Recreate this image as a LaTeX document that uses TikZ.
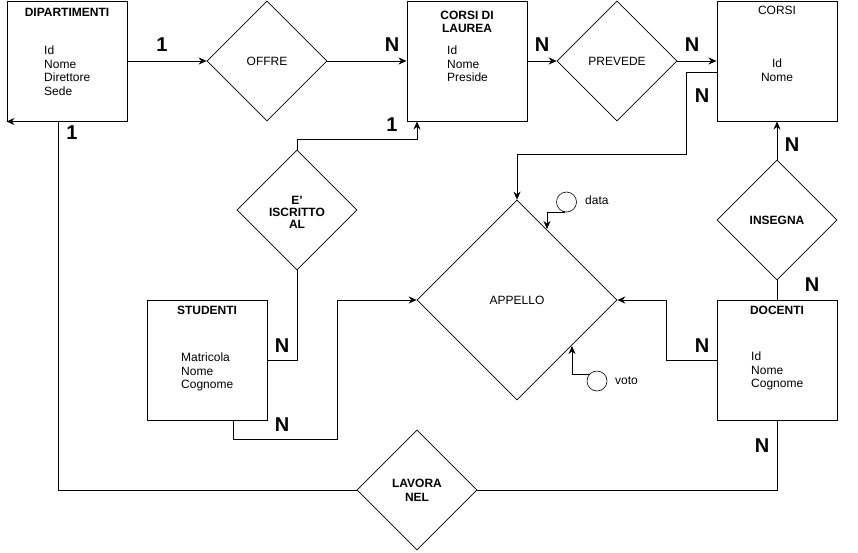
\documentclass[tikz,border=0pt]{standalone}
\usepackage{fontspec}
\setmainfont{Liberation Sans}
\usetikzlibrary{shapes.geometric,arrows.meta}
\begin{document}
\begin{tikzpicture}[x=1pt,y=-1pt,
  ent/.style={draw,line width=1pt,minimum width=120pt,minimum height=120pt,inner sep=0pt},
  rel/.style={draw,diamond,aspect=1,line width=0.6pt,inner sep=0pt,minimum width=120pt,minimum height=120pt},
  rtxt/.style={inner sep=0pt,align=center,font=\fontsize{12}{13}\selectfont},
  rtxtb/.style={inner sep=0pt,align=center,font=\fontsize{12}{12}\selectfont\bfseries},
  ttl/.style={inner sep=0pt,align=center,font=\fontsize{12}{13}\selectfont\bfseries},
  ttlr/.style={inner sep=0pt,align=center,font=\fontsize{12}{13}\selectfont},
  attr/.style={inner sep=0pt,anchor=north west,align=left,font=\fontsize{12}{13.7}\selectfont},
  card/.style={inner sep=0pt,font=\fontsize{20}{20}\selectfont\bfseries},
  atc/.style={draw,circle,line width=0.6pt,minimum size=20pt,inner sep=0pt},
  lnk/.style={line width=1pt},
  arr/.style={line width=1pt,-{Stealth[length=8pt,width=7pt]}}
]
\useasboundingbox (0,0) rectangle (858,552);

% entities
\node[ent] (dip) at (67,61) {};
\node[ent] (cdl) at (467,61) {};
\node[ent] (corsi) at (777,61) {};
\node[ent] (stud) at (207,360) {};
\node[ent] (doc) at (777,360) {};

\node[ttl] (tdip) at (67,12) {DIPARTIMENTI};
\node[attr] (adip) at (44,45.5) {Id\\Nome\\Direttore\\Sede};
\node[ttl] (tcdl) at (467,21.5) {CORSI DI\\LAUREA};
\node[attr] (acdl) at (447,45.5) {Id\\Nome\\Preside};
\node[ttlr] (tcorsi) at (777,10.5) {CORSI};
\node[attr,anchor=north,align=center] (acorsi) at (777,58.5) {Id\\Nome};
\node[ttl] (tstud) at (207,310) {STUDENTI};
\node[attr] (astud) at (181,352.5) {Matricola\\Nome\\Cognome};
\node[ttl] (tdoc) at (777,310) {DOCENTI};
\node[attr] (adoc) at (751,351.5) {Id\\Nome\\Cognome};

% relations
\node[rel] (offre) at (267,61) {};
\node[rtxt] (toffre) at (267,61) {OFFRE};
\node[rel] (prev) at (617,61) {};
\node[rtxt] (tprev) at (617,61) {PREVEDE};
\node[rel] (isc) at (297,210) {};
\node[rtxtb] (tisc) at (297,212) {E'\\ISCRITTO\\AL};
\node[rel] (ins) at (777,220) {};
\node[rtxtb] (tins) at (777,220) {INSEGNA};
\node[rel] (lav) at (417,490) {};
\node[rtxtb,font=\fontsize{12}{14}\selectfont\bfseries] (tlav) at (417,490) {LAVORA\\NEL};
\node[rel,minimum width=200pt,minimum height=200pt] (app) at (517,300) {};
\node[rtxt] (tapp) at (517,300) {APPELLO};

% attributes of APPELLO
\node[atc] (data) at (566.5,202) {};
\node[ttlr,anchor=west] (tdata) at (585,200) {data};
\node[atc] (voto) at (597,381) {};
\node[ttlr,anchor=west] (tvoto) at (615,381) {voto};
\coordinate (datatip) at (547,229);
\coordinate (vototip) at (572,346);

% connectors
\draw[arr] (dip.east |- offre.west) -- (offre.west);
\draw[arr] (offre.east) -- (cdl.west);
\draw[arr] (cdl.east) -- (prev.west);
\draw[arr] (prev.east) -- (corsi.west);
\draw[arr] ([yshift=-11pt]corsi.west) -- ++(-30,0) -- ++(0,82) -| (app.north);
\draw[arr] (isc.north) -- ++(0,-10) -| ([xshift=-50pt]cdl.south);
\draw[lnk] (stud.east) -| (isc.south);
\draw[arr] ([xshift=26pt]stud.south) -- ++(0,19) -| (337,300) -- (app.west);
\draw[arr] (doc.west) -- ++(-50,0) |- (app.east);
\draw[arr] (ins.north) -- (corsi.south);
\draw[lnk] (ins.south) -- (doc.north);
\draw[lnk] (doc.south) |- (lav.east);
\draw[arr] (lav.west) -| ([xshift=-9pt]dip.south) -- (dip.south west);
\draw[arr,line width=0.8pt] (data.260) -- (datatip |- data.260) -- (datatip);
\draw[arr,line width=0.8pt] (voto.140) -- (vototip |- voto.140) -- (vototip);

% cardinalities
\node[card] (c1) at (162,45) {1};
\node[card] (c2) at (392,45) {N};
\node[card] (c3) at (542,45) {N};
\node[card] (c4) at (692,45) {N};
\node[card] (c5) at (702,96) {N};
\node[card] (c6) at (72,133) {1};
\node[card] (c7) at (392,125) {1};
\node[card] (c8) at (792,145) {N};
\node[card] (c9) at (812,285) {N};
\node[card] (c10) at (282,346) {N};
\node[card] (c11) at (282,425) {N};
\node[card] (c12) at (702,346) {N};
\node[card] (c13) at (762,446) {N};
\end{tikzpicture}
\end{document}
